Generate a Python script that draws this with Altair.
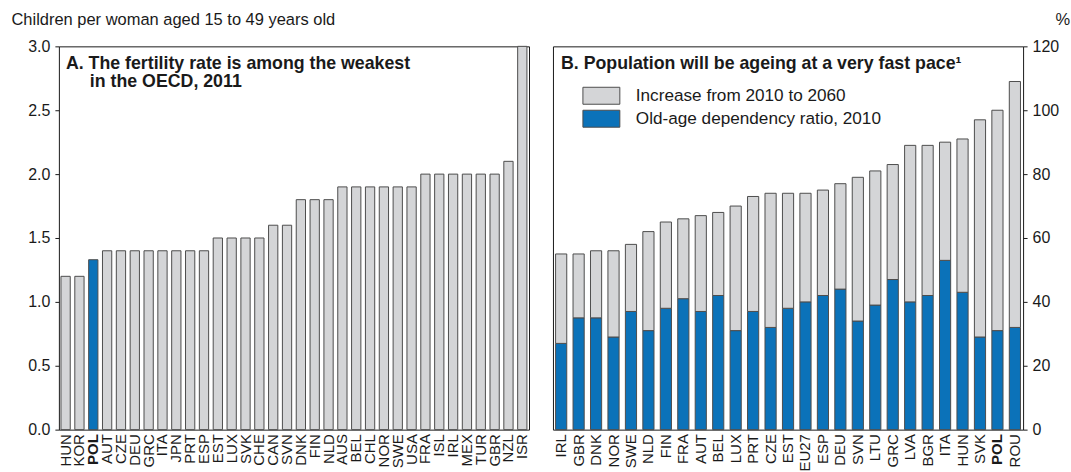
import altair as alt
import pandas as pd

# ---------------- data ----------------
countries_a = ["HUN", "KOR", "POL", "AUT", "CZE", "DEU", "GRC", "ITA", "JPN", "PRT",
               "ESP", "EST", "LUX", "SVK", "CHE", "CAN", "SVN", "DNK", "FIN", "NLD",
               "AUS", "BEL", "CHL", "NOR", "SWE", "USA", "FRA", "ISL", "IRL", "MEX",
               "TUR", "GBR", "NZL", "ISR"]
fertility = [1.2, 1.2, 1.33, 1.4, 1.4, 1.4, 1.4, 1.4, 1.4, 1.4,
             1.4, 1.5, 1.5, 1.5, 1.5, 1.6, 1.6, 1.8, 1.8, 1.8,
             1.9, 1.9, 1.9, 1.9, 1.9, 1.9, 2.0, 2.0, 2.0, 2.0,
             2.0, 2.0, 2.1, 3.0]

countries_b = ["IRL", "GBR", "DNK", "NOR", "SWE", "NLD", "FIN", "FRA", "AUT", "BEL",
               "LUX", "PRT", "CZE", "EST", "EU27", "ESP", "DEU", "SVN", "LTU", "GRC",
               "LVA", "BGR", "ITA", "HUN", "SVK", "POL", "ROU"]
ratio_2010 = [27, 35, 35, 29, 37, 31, 38, 41, 37, 42,
              31, 37, 32, 38, 40, 42, 44, 34, 39, 47,
              40, 42, 53, 43, 29, 31, 32]
increase_2060 = [28, 20, 21, 27, 21, 31, 27, 25, 30, 26,
                 39, 36, 42, 36, 34, 33, 33, 45, 42, 36,
                 49, 47, 37, 48, 68, 69, 77]

series_names = ["Increase from 2010 to 2060", "Old-age dependency ratio, 2010"]

left_ticks = [0.0, 0.5, 1.0, 1.5, 2.0, 2.5, 3.0]
right_ticks = [0, 20, 40, 60, 80, 100, 120]

# ---------------- styles ----------------
GRAY = "#d4d5d7"
BLUE = "#0b72b9"
EDGE = "#4d4d4d"
TXT = "#1a1a1a"
FONT = "Liberation Sans"
W, H = 471, 384
TFS = 17.8

df_a = pd.DataFrame({"country": countries_a, "value": fertility})

rows = []
for c, b, inc in zip(countries_b, ratio_2010, increase_2060):
    rows.append({"country": c, "series": series_names[1], "value": b, "ord": 0})
    rows.append({"country": c, "series": series_names[0], "value": inc, "ord": 1})
df_b = pd.DataFrame(rows)

one = alt.Data(values=[{"k": 0}])

bold_pol = {"condition": {"test": "datum.value === 'POL'", "value": "bold"}, "value": "normal"}

x_axis = dict(labelAngle=-90, labelAlign="right", labelBaseline="middle", ticks=False,
              domain=False, labelPadding=4, labelFontSize=15, labelColor=TXT,
              title=None, labelFontWeight=bold_pol)

# ---------------- panel A ----------------
bars_a = alt.Chart(df_a).mark_bar(stroke=EDGE, strokeWidth=1).encode(
    x=alt.X("country:N", sort=countries_a,
            scale=alt.Scale(paddingInner=0.33, paddingOuter=0.15),
            axis=alt.Axis(**x_axis)),
    y=alt.Y("value:Q", scale=alt.Scale(domain=[0, 3], nice=False, clamp=True),
            axis=alt.Axis(values=left_ticks, format=".1f", grid=False, domain=False,
                          tickSize=4, tickColor=TXT, labelPadding=5, labelFontSize=16,
                          labelColor=TXT,
                          title="Children per woman aged 15 to 49 years old",
                          titleAngle=0, titleAlign="left", titleBaseline="alphabetic",
                          titleX=-48, titleY=-22, titleFontSize=16.5,
                          titleFontWeight="normal", titleColor=TXT)),
    fill=alt.condition(alt.datum.country == "POL", alt.value(BLUE), alt.value(GRAY)),
)

title_a1 = alt.Chart(one).mark_text(
    align="left", baseline="alphabetic", fontSize=TFS, fontWeight="bold", color=TXT
).encode(x=alt.value(7), y=alt.value(23),
         text=alt.value("A. The fertility rate is among the weakest"))
title_a2 = alt.Chart(one).mark_text(
    align="left", baseline="alphabetic", fontSize=TFS, fontWeight="bold", color=TXT
).encode(x=alt.value(31), y=alt.value(41), text=alt.value("in the OECD, 2011"))

panel_a = alt.layer(bars_a, title_a1, title_a2).properties(width=W, height=H)

# ---------------- panel B ----------------
bars_b = alt.Chart(df_b).mark_bar(stroke=EDGE, strokeWidth=1).encode(
    x=alt.X("country:N", sort=countries_b,
            scale=alt.Scale(paddingInner=0.36, paddingOuter=0.15),
            axis=alt.Axis(**x_axis)),
    y=alt.Y("sum(value):Q", stack="zero",
            scale=alt.Scale(domain=[0, 120], nice=False),
            axis=alt.Axis(orient="right", values=right_ticks, grid=False, domain=False,
                          tickSize=4, tickColor=TXT, labelPadding=5, labelFontSize=16,
                          labelColor=TXT, title="%", titleAngle=0, titleAlign="left",
                          titleBaseline="alphabetic", titleX=32, titleY=-22,
                          titleFontSize=16.5, titleFontWeight="normal", titleColor=TXT)),
    color=alt.Color("series:N", scale=alt.Scale(domain=series_names, range=[GRAY, BLUE]),
                    legend=None),
    order=alt.Order("ord:Q", sort="ascending"),
)

title_b = alt.Chart(one).mark_text(
    align="left", baseline="alphabetic", fontSize=TFS, fontWeight="bold", color=TXT
).encode(x=alt.value(8), y=alt.value(23),
         text=alt.value("B. Population will be ageing at a very fast pace\u00b9"))

leg_gray = alt.Chart(one).mark_rect(fill=GRAY, stroke=EDGE, strokeWidth=1).encode(
    x=alt.value(30), x2=alt.value(67), y=alt.value(41), y2=alt.value(58))
leg_blue = alt.Chart(one).mark_rect(fill=BLUE, stroke=EDGE, strokeWidth=1).encode(
    x=alt.value(30), x2=alt.value(67), y=alt.value(64), y2=alt.value(81))
leg_t1 = alt.Chart(one).mark_text(
    align="left", baseline="middle", fontSize=17.2, color=TXT
).encode(x=alt.value(83), y=alt.value(50), text=alt.value(series_names[0]))
leg_t2 = alt.Chart(one).mark_text(
    align="left", baseline="middle", fontSize=17.2, color=TXT
).encode(x=alt.value(83), y=alt.value(73), text=alt.value(series_names[1]))

panel_b = alt.layer(bars_b, title_b, leg_gray, leg_blue, leg_t1, leg_t2).properties(
    width=W, height=H)

chart = alt.hconcat(panel_a, panel_b, spacing=21).properties(
    padding={"left": 10, "top": 10, "right": 0, "bottom": 0}
).configure(font=FONT).configure_view(stroke=TXT, strokeWidth=1)

chart.save("out.html", embed_options={"renderer": "svg", "actions": False})
